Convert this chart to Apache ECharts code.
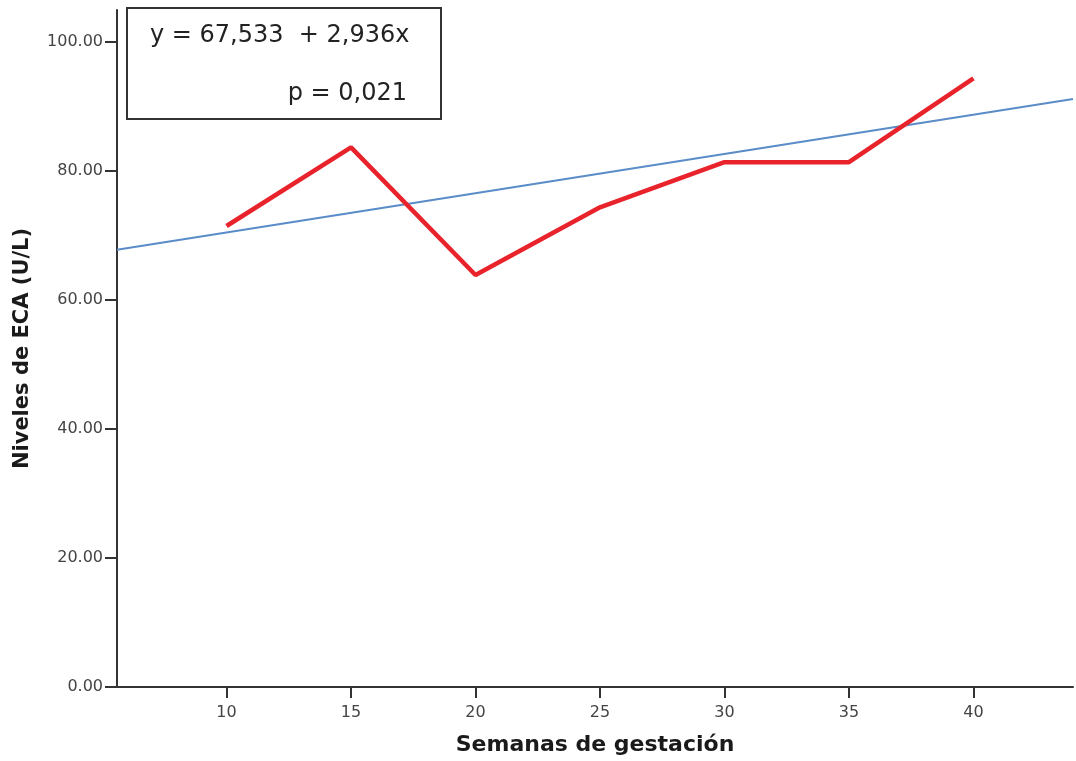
<!DOCTYPE html>
<html>
<head>
<meta charset="utf-8">
<script src="https://cdn.jsdelivr.net/npm/echarts@6/dist/echarts.min.js"></script>
<style>html,body{margin:0;padding:0;background:#fff}#c{width:1076px;height:761px}</style>
</head>
<body>
<div id="c"></div>
<script>
var weeks = [10, 15, 20, 25, 30, 35, 40];
var ecaLevels = [71.5, 83.7, 63.9, 74.4, 81.4, 81.4, 94.4];
var fitLine = [[5.6, 67.8], [44, 91.2]];
var xTicks = [10, 15, 20, 25, 30, 35, 40];
var yTicks = [0, 20, 40, 60, 80, 100];
var equationText = 'y = 67,533  + 2,936x';
var pText = 'p = 0,021';

var chart = echarts.init(document.getElementById('c'));
var font = '"DejaVu Sans", Verdana, sans-serif';
chart.setOption({
  backgroundColor: '#fff',
  animation: false,
  grid: {left: 117, right: 3, top: 10, bottom: 73, containLabel: false},
  xAxis: {
    type: 'value', min: 5.6, max: 44,
    name: 'Semanas de gestación', nameLocation: 'middle', nameGap: 47,
    nameTextStyle: {fontFamily: font, fontSize: 22, fontWeight: 'bold', color: '#1a1a1a'},
    axisLine: {show: true, lineStyle: {color: '#333', width: 2}},
    axisTick: {show: true, length: 11, customValues: xTicks, lineStyle: {color: '#333', width: 2}},
    axisLabel: {customValues: xTicks, margin: 18, fontFamily: font, fontSize: 16, color: '#444'},
    splitLine: {show: false}
  },
  yAxis: {
    type: 'value', min: 0, max: 105,
    name: 'Niveles de ECA (U/L)', nameLocation: 'middle', nameGap: 84,
    nameTextStyle: {fontFamily: font, fontSize: 21, fontWeight: 'bold', color: '#1a1a1a'},
    axisLine: {show: true, lineStyle: {color: '#333', width: 2}},
    axisTick: {show: true, length: 12, customValues: yTicks, lineStyle: {color: '#333', width: 2}},
    axisLabel: {customValues: yTicks, margin: 14, fontFamily: font, fontSize: 16, color: '#444',
      formatter: function (v) { return v.toFixed(2); }},
    splitLine: {show: false}
  },
  series: [
    {
      type: 'line', data: fitLine, symbol: 'none',
      lineStyle: {color: '#5a8cc8', width: 2}, z: 2
    },
    {
      type: 'line', data: weeks.map(function (w, i) { return [w, ecaLevels[i]]; }),
      symbol: 'none', lineStyle: {color: '#e8232b', width: 4.5}, z: 3
    }
  ],
  graphic: [
    {type: 'rect', shape: {x: 127, y: 8, width: 314, height: 111},
     style: {fill: '#fff', stroke: '#333', lineWidth: 2}, z: 10},
    {type: 'text', x: 150, y: 36, style: {text: equationText, font: '24px ' + font, fill: '#222', textVerticalAlign: 'middle'}, z: 11},
    {type: 'text', x: 407, y: 94, style: {text: pText, font: '24px ' + font, fill: '#222', textAlign: 'right', textVerticalAlign: 'middle'}, z: 11}
  ]
});
</script>
</body>
</html>
